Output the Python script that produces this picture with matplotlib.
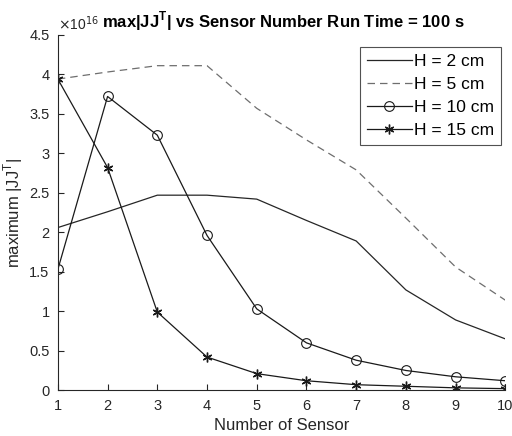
import matplotlib
matplotlib.use("Agg")
import matplotlib.pyplot as plt

plt.rcParams['font.family'] = ['Liberation Sans', 'DejaVu Sans']

sensors = [1, 2, 3, 4, 5, 6, 7, 8, 9, 10]
h2 = [2.06, 2.26, 2.47, 2.47, 2.42, 2.15, 1.89, 1.27, 0.89, 0.65]
h5 = [3.94, 4.03, 4.11, 4.11, 3.57, 3.17, 2.79, 2.18, 1.56, 1.14]
h10 = [1.53, 3.72, 3.23, 1.96, 1.03, 0.60, 0.38, 0.25, 0.17, 0.12]
h15 = [3.94, 2.82, 0.99, 0.42, 0.21, 0.12, 0.07, 0.05, 0.03, 0.02]
labels = ['H = 2 cm', 'H = 5 cm', 'H = 10 cm', 'H = 15 cm']
yticks = [0, 0.5, 1, 1.5, 2, 2.5, 3, 3.5, 4, 4.5]

fig = plt.figure(figsize=(5.12, 4.36), dpi=100)
ax = fig.add_axes([0.113, 0.105, 0.874, 0.815])

ax.plot(sensors, h2, '-', color='#262626', lw=0.9, label=labels[0])
ax.plot(sensors, h5, '--', color='#6e6e6e', lw=0.9, dashes=(6, 4), label=labels[1])
ax.plot(sensors, h10, '-', color='#1a1a1a', lw=0.9, marker='o', ms=7,
        mfc='none', mew=0.8, label=labels[2])
ax.plot(sensors, h15, '-', color='#1a1a1a', lw=0.9, marker=(6, 2, 0), ms=7,
        mew=1.0, label=labels[3])

ax.set_xlim(1, 10)
ax.set_ylim(0, 4.5)
ax.set_xticks(sensors)
ax.set_yticks(yticks)
ax.set_yticklabels(['0', '0.5', '1', '1.5', '2', '2.5', '3', '3.5', '4', '4.5'])
for s in ['top', 'right']:
    ax.spines[s].set_visible(False)
for s in ['left', 'bottom']:
    ax.spines[s].set_color('#262626')
    ax.spines[s].set_linewidth(0.8)
ax.tick_params(direction='in', length=4, width=0.8, colors='#262626',
               labelsize=10.5, pad=6)

ax.set_xlabel('Number of Sensor', fontsize=12, color='#262626', labelpad=4)
ax.set_ylabel(r'maximum |JJ$^\mathregular{T}$|', fontsize=12, color='#262626', labelpad=3)
fig.text(0.113, 0.925, r'$\times$10$^{16}$', fontsize=10, color='#262626', ha='left', va='bottom')
fig.text(0.199, 0.925, r'max|JJ$^\mathregular{T}$| vs Sensor Number Run Time = 100 s',
         fontsize=12, fontweight='bold', ha='left', va='bottom', color='black')

leg = ax.legend(loc='upper right', bbox_to_anchor=(0.99, 0.967), fontsize=12.5,
                frameon=True, fancybox=False, edgecolor='#262626',
                handlelength=2.6, handletextpad=0.1, borderpad=0.4,
                labelspacing=0.45, borderaxespad=0)
leg.get_frame().set_linewidth(0.8)

fig.savefig('out.png', dpi=100)
